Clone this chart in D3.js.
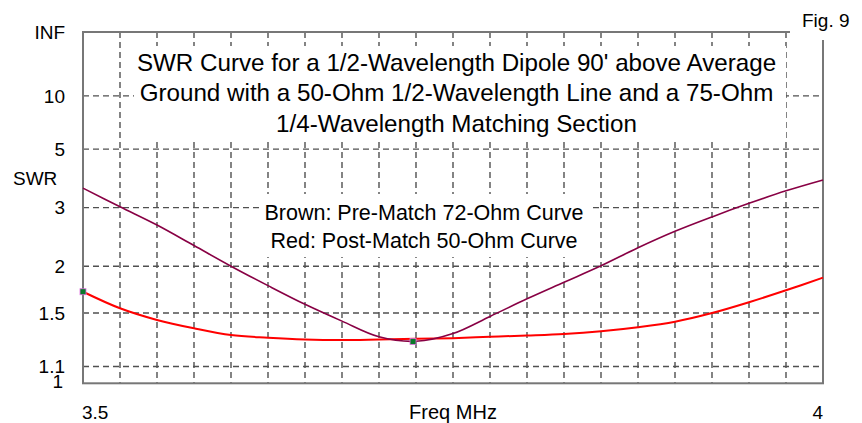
<!DOCTYPE html>
<html>
<head>
<meta charset="utf-8">
<script src="https://cdn.jsdelivr.net/npm/d3@7"></script>
<style>
  body { margin: 0; background: #fff; }
  text { font-family: "Liberation Sans", Arial, sans-serif; fill: #000; }
</style>
</head>
<body>
<div class="chart"></div>
<script>
let width = 862
let height = 423

// frequency steps in MHz
let freqs = [3.5, 3.525, 3.55, 3.575, 3.6, 3.625, 3.65, 3.675, 3.7, 3.725, 3.75,
  3.775, 3.8, 3.825, 3.85, 3.875, 3.9, 3.925, 3.95, 3.975, 4.0]
// brown: pre-match 72-ohm curve
let swrBrown = [3.50, 3.02, 2.64, 2.29, 2.00, 1.77, 1.58, 1.43, 1.305, 1.272, 1.33,
  1.47, 1.633, 1.807, 2.005, 2.256, 2.525, 2.80, 3.10, 3.425, 3.75]
// red: post-match 50-ohm curve
let swrRed = [1.705, 1.543, 1.44, 1.371, 1.318, 1.298, 1.285, 1.281, 1.285, 1.29, 1.295,
  1.305, 1.315, 1.327, 1.348, 1.38, 1.425, 1.50, 1.60, 1.72, 1.86]
let markerFreq = [3.5, 3.723]
let markerSwr = [1.705, 1.27]

let yTickVals = [Infinity, 10, 5, 3, 2, 1.5, 1.1, 1]
let yTickLabels = ["INF", "10", "5", "3", "2", "1.5", "1.1", "1"]
let xGrid = d3.range(1, 20).map(i => 3.5 + i * 0.025)

let titleLines = [
  "SWR Curve for a 1/2-Wavelength Dipole 90' above Average",
  "Ground with a 50-Ohm 1/2-Wavelength Line and a 75-Ohm",
  "1/4-Wavelength Matching Section"
]
let legendLines = ["Brown: Pre-Match 72-Ohm Curve", "Red: Post-Match 50-Ohm Curve"]

let plotL = 83, plotR = 823, plotT = 32, plotB = 383.3

let svg = d3.select(".chart")
  .append("svg")
  .attr("width", width)
  .attr("height", height)

let x = d3.scaleLinear().domain([3.5, 4]).range([plotL, plotR])
// swr chart is linear in reflection coefficient
let yRho = d3.scaleLinear().domain([0, 1]).range([plotB, plotT])
let rho = s => s === Infinity ? 1 : (s - 1) / (s + 1)
let y = s => yRho(rho(s))

// grid
svg.append("g")
  .selectAll("line")
  .data(yTickVals.filter(v => v !== Infinity && v !== 1))
  .enter()
  .append("line")
  .attr("x1", plotL).attr("x2", plotR)
  .attr("y1", d => y(d)).attr("y2", d => y(d))
  .attr("stroke", "#505050")
  .attr("stroke-width", 1.4)
  .attr("stroke-dasharray", "6,4")

svg.append("g")
  .selectAll("line")
  .data(xGrid)
  .enter()
  .append("line")
  .attr("x1", d => x(d)).attr("x2", d => x(d))
  .attr("y1", plotT).attr("y2", plotB)
  .attr("stroke", "#505050")
  .attr("stroke-width", 1.4)
  .attr("stroke-dasharray", "6,4")

// border
svg.append("rect")
  .attr("x", plotL).attr("y", plotT)
  .attr("width", plotR - plotL).attr("height", plotB - plotT)
  .attr("fill", "none")
  .attr("stroke", "#777")
  .attr("stroke-width", 2)

// white boxes behind the texts
svg.append("rect").attr("x", 134).attr("y", 46).attr("width", 652).attr("height", 94).attr("fill", "#fff")
svg.append("rect").attr("x", 259).attr("y", 194).attr("width", 330).attr("height", 63).attr("fill", "#fff")
svg.append("rect").attr("x", 790).attr("y", 0).attr("width", 72).attr("height", 40).attr("fill", "#fff")

// curves
let line = d3.line()
  .x((d, i) => x(freqs[i]))
  .y(d => y(d))
  .curve(d3.curveCatmullRom.alpha(0.5))

svg.append("path")
  .attr("d", line(swrRed))
  .attr("fill", "none")
  .attr("stroke", "#ff0000")
  .attr("stroke-width", 2)

svg.append("path")
  .attr("d", line(swrBrown))
  .attr("fill", "none")
  .attr("stroke", "#880044")
  .attr("stroke-width", 1.6)

svg.append("g")
  .selectAll("rect")
  .data(markerFreq)
  .enter()
  .append("rect")
  .attr("x", d => x(d) - 3)
  .attr("y", (d, i) => y(markerSwr[i]) - 3)
  .attr("width", 6).attr("height", 6)
  .attr("fill", "#0a7a2a")
  .attr("stroke", "#e070e0")
  .attr("stroke-width", 0.8)

// y labels
svg.append("g")
  .selectAll("text")
  .data(yTickVals)
  .enter()
  .append("text")
  .attr("x", (d, i) => i === yTickVals.length - 1 ? 63 : 65)
  .attr("y", d => y(d))
  .attr("dy", (d, i) => i === yTickVals.length - 1 ? "0.25em" : "0.35em")
  .attr("text-anchor", "end")
  .attr("font-size", 19)
  .text((d, i) => yTickLabels[i])

svg.append("text").attr("x", 13).attr("y", 178).attr("dy", "0.35em")
  .attr("font-size", 19).text("SWR")

// x labels
svg.append("text").attr("x", x(3.5) - 1).attr("y", 412).attr("dy", "0.35em")
  .attr("font-size", 19).text("3.5")
svg.append("text").attr("x", x(4)).attr("y", 412).attr("dy", "0.35em")
  .attr("text-anchor", "end").attr("font-size", 19).text("4")
svg.append("text").attr("x", (plotL + plotR) / 2).attr("y", 412).attr("dy", "0.35em")
  .attr("text-anchor", "middle").attr("font-size", 20).text("Freq MHz")

svg.append("text").attr("x", 802).attr("y", 20).attr("dy", "0.35em")
  .attr("font-size", 19).text("Fig. 9")

// title and legend
svg.append("g")
  .selectAll("text")
  .data(titleLines)
  .enter()
  .append("text")
  .attr("x", 456.5)
  .attr("y", (d, i) => 62.5 + i * 30.5)
  .attr("dy", "0.35em")
  .attr("text-anchor", "middle")
  .attr("font-size", 24.2)
  .text(d => d)

svg.append("g")
  .selectAll("text")
  .data(legendLines)
  .enter()
  .append("text")
  .attr("x", 424)
  .attr("y", (d, i) => 212.5 + i * 28)
  .attr("dy", "0.35em")
  .attr("text-anchor", "middle")
  .attr("font-size", 21.5)
  .text(d => d)
</script>
</body>
</html>
